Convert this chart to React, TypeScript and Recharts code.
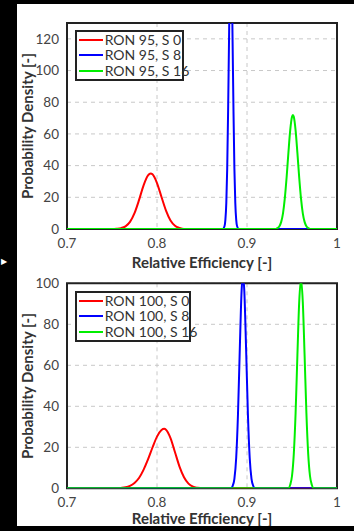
import React from "react";
import {
  LineChart,
  Line,
  XAxis,
  YAxis,
  CartesianGrid,
  ReferenceArea,
} from "recharts";

// x ticks shared by both panels
const xTicks = [0.7, 0.8, 0.9, 1];
const topYTicks = [0, 20, 40, 60, 80, 100, 120];
const bottomYTicks = [0, 20, 40, 60, 80, 100];

// RON 95 curves
const ron95S0X = [0.7, 0.75, 0.755, 0.76, 0.765, 0.77, 0.775, 0.78, 0.785, 0.79, 0.793, 0.795, 0.8, 0.805, 0.81, 0.815, 0.82, 0.825, 0.83, 1];
const ron95S0Y = [0, 0, 0.14, 0.54, 1.7, 4.5, 10, 18.2, 27.4, 33.8, 35, 34.5, 29, 20.2, 11.6, 5.4, 2.1, 0.7, 0, 0];

const ron95S8X = [0.7, 0.873, 0.875, 0.876, 0.877, 0.878, 0.879, 0.88, 0.881, 0.882, 0.883, 0.884, 0.885, 0.886, 0.887, 0.888, 0.889, 0.891, 1];
const ron95S8Y = [0, 0, 1.7, 5.9, 16.4, 38, 74, 118, 158, 170, 158, 118, 74, 38, 16.4, 5.9, 1.7, 0, 0];

const ron95S16X = [0.7, 0.932, 0.934, 0.936, 0.938, 0.94, 0.942, 0.944, 0.946, 0.948, 0.95, 0.951, 0.952, 0.954, 0.956, 0.958, 0.96, 0.962, 0.964, 0.966, 0.968, 0.97, 1];
const ron95S16Y = [0, 0, 0.65, 1.8, 4.5, 9.9, 19.3, 32.5, 48, 62.2, 70.8, 72, 70.8, 62.2, 48, 32.5, 19.3, 9.9, 4.5, 1.8, 0.65, 0, 0];

// RON 100 curves
const ron100S0X = [0.7, 0.755, 0.76, 0.765, 0.77, 0.775, 0.78, 0.785, 0.79, 0.795, 0.8, 0.805, 0.808, 0.81, 0.815, 0.82, 0.825, 0.83, 0.835, 0.84, 0.845, 0.85, 1];
const ron100S0Y = [0, 0, 0.17, 0.47, 1.2, 2.6, 5, 9, 14.1, 19.9, 25.2, 28.4, 29, 28.6, 24.5, 17.6, 10.6, 5.4, 2.3, 0.8, 0.25, 0, 0];

const ron100S8X = [0.7, 0.882, 0.884, 0.886, 0.888, 0.89, 0.892, 0.894, 0.8955, 0.897, 0.899, 0.901, 0.903, 0.905, 0.907, 0.909, 1];
const ron100S8Y = [0, 0, 1.06, 4.6, 14.9, 36.4, 68, 96.3, 104, 96.3, 68, 36.4, 14.9, 4.6, 1.06, 0, 0];

const ron100S16X = [0.7, 0.946, 0.948, 0.95, 0.952, 0.954, 0.956, 0.958, 0.96, 0.962, 0.964, 0.966, 0.968, 0.97, 0.972, 0.974, 1];
const ron100S16Y = [0, 0, 1.7, 6, 16.8, 36.7, 64.9, 90.8, 102, 90.8, 64.9, 36.7, 16.8, 6, 1.7, 0, 0];

const zip = (xs: number[], ys: number[]) => xs.map((x, i) => ({ x, y: ys[i] }));

const FONT = "Lato, 'Open Sans', sans-serif";
const TICK = { fill: "#444", fontSize: 13.5, fontFamily: FONT };

type Series = { name: string; color: string; data: { x: number; y: number }[] };

// legend drawn from the series list so the order stays as plotted
function LegendBox({ items, width }: { items: Series[]; width: number }) {
  return (
    <div
      style={{
        position: "absolute",
        left: 57.7,
        top: 26,
        width,
        height: 51,
        boxSizing: "border-box",
        border: "2px solid #222",
        background: "#fff",
        fontFamily: FONT,
        fontSize: 14,
        color: "#333",
      }}
    >
      {items.map((s) => (
        <div key={s.name} style={{ display: "flex", alignItems: "center", height: 15.5 }}>
          <div style={{ flex: "0 0 24px", height: 2, background: s.color, marginLeft: 2, marginRight: 2 }} />
          <span style={{ whiteSpace: "nowrap", lineHeight: "14px" }}>{s.name}</span>
        </div>
      ))}
    </div>
  );
}

function Panel(props: {
  height: number;
  marginTop: number;
  marginBottom: number;
  yMax: number;
  yTicks: number[];
  series: Series[];
  legendWidth: number;
}) {
  const { height, marginTop, marginBottom, yMax, yTicks, series, legendWidth } = props;
  return (
    <div style={{ position: "relative", width: 337, height }}>
      <LineChart
        width={337}
        height={height}
        margin={{ top: marginTop, right: 17, bottom: marginBottom, left: 0 }}
      >
        <CartesianGrid stroke="#c8c8c8" strokeDasharray="4 4" />
        <XAxis
          type="number"
          dataKey="x"
          domain={[0.7, 1]}
          ticks={xTicks}
          allowDataOverflow
          axisLine={false}
          tickLine={false}
          tickSize={0}
          tickMargin={9}
          height={30}
          tick={TICK}
        />
        <YAxis
          type="number"
          domain={[0, yMax]}
          ticks={yTicks}
          allowDataOverflow
          axisLine={false}
          tickLine={false}
          tickSize={0}
          tickMargin={8}
          width={50}
          tick={TICK}
        />
        {series.map((s) => (
          <Line
            key={s.name}
            data={s.data}
            dataKey="y"
            name={s.name}
            type="monotone"
            stroke={s.color}
            strokeWidth={2}
            dot={false}
            isAnimationActive={false}
          />
        ))}
        <ReferenceArea
          x1={0.7}
          x2={1}
          y1={0}
          y2={yMax}
          fill="none"
          stroke="#222"
          strokeWidth={2}
          ifOverflow="visible"
        />
      </LineChart>
      <LegendBox items={series} width={legendWidth} />
    </div>
  );
}

const axisLabel: React.CSSProperties = {
  position: "absolute",
  fontFamily: FONT,
  fontWeight: 700,
  fontSize: 15,
  lineHeight: 1,
  color: "#333",
  whiteSpace: "nowrap",
};

export default function App() {
  const topSeries: Series[] = [
    { name: "RON 95, S 0", color: "#ff0000", data: zip(ron95S0X, ron95S0Y) },
    { name: "RON 95, S 8", color: "#0000ff", data: zip(ron95S8X, ron95S8Y) },
    { name: "RON 95, S 16", color: "#00ee00", data: zip(ron95S16X, ron95S16Y) },
  ];
  const bottomSeries: Series[] = [
    { name: "RON 100, S 0", color: "#ff0000", data: zip(ron100S0X, ron100S0Y) },
    { name: "RON 100, S 8", color: "#0000ff", data: zip(ron100S8X, ron100S8Y) },
    { name: "RON 100, S 16", color: "#00ee00", data: zip(ron100S16X, ron100S16Y) },
  ];

  return (
    <div style={{ position: "fixed", left: 0, top: 0, width: 354, height: 531, background: "#000" }}>
      <span style={{ position: "absolute", left: 1, top: 257, color: "#fff", fontSize: 8 }}>▶</span>
      <div
        style={{
          position: "absolute",
          left: 17,
          top: 4,
          width: 337,
          height: 522,
          background: "#fff",
          overflow: "hidden",
        }}
      >
        <div style={{ position: "absolute", left: 0, top: 0 }}>
          <Panel
            height={266}
            marginTop={19}
            marginBottom={11}
            yMax={130}
            yTicks={topYTicks}
            series={topSeries}
            legendWidth={109}
          />
        </div>
        <div style={{ position: "absolute", left: 0, top: 261 }}>
          <Panel
            height={261}
            marginTop={18.3}
            marginBottom={7.7}
            yMax={100}
            yTicks={bottomYTicks}
            series={bottomSeries}
            legendWidth={116}
          />
        </div>

        <div style={{ ...axisLabel, left: 10, top: 122, transform: "translate(-50%, -50%) rotate(-90deg)" }}>
          Probability Density [-]
        </div>
        <div style={{ ...axisLabel, left: 185, top: 258, transform: "translate(-50%, -50%)" }}>
          Relative Efficiency [-]
        </div>
        <div style={{ ...axisLabel, left: 10, top: 382, transform: "translate(-50%, -50%) rotate(-90deg)" }}>
          Probability Density [-]
        </div>
        <div style={{ ...axisLabel, left: 185, top: 514, transform: "translate(-50%, -50%)" }}>
          Relative Efficiency [-]
        </div>
      </div>
    </div>
  );
}
